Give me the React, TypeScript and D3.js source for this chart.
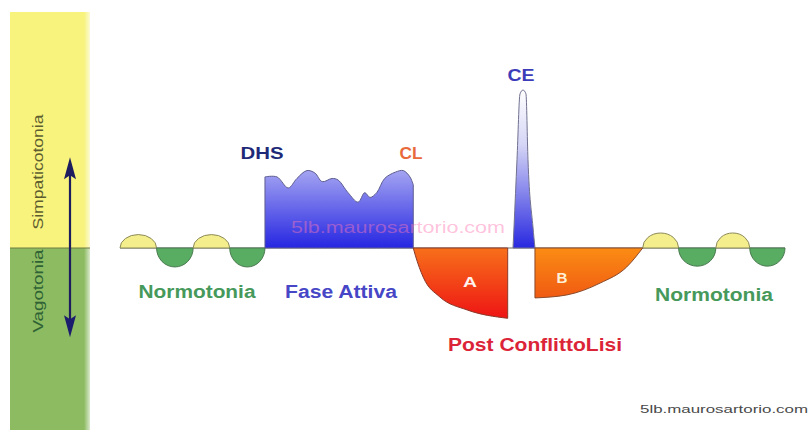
import React from "react";
import * as d3 from "d3";

const W = 812;
const H = 439;

// Time runs 0..100 (arbitrary units); tone level: 0 = normotonia baseline, CE peak = 10
const timeDomain = [0, 100];
const levelDomain = [0, 10];

// Normotonia oscillations: [start, end, amplitude]
const normoLeftStart = [0, 5.5, 11, 16.5];
const normoLeftEnd = [5.5, 11, 16.5, 21.8];
const normoLeftAmp = [0.85, -1.2, 0.85, -1.2];
const normoRightStart = [78.6, 84, 89.6, 94.7];
const normoRightEnd = [84, 89.6, 94.7, 100];
const normoRightAmp = [0.95, -1.15, 0.95, -1.15];

// Fase Attiva (DHS -> CL) sympathicotonic profile
const faseT = [21.8, 23.6, 25.3, 26.6, 28.1, 29.3, 30.4, 31.9, 32.8, 34.3, 35.8, 36.8, 37.6, 38.6, 39.8, 41.4, 42.6, 43.6, 44.1];
const faseV = [4.5, 4.5, 3.8, 4.4, 4.9, 4.75, 4.2, 4.4, 4.3, 3.5, 2.9, 3.5, 3.2, 3.5, 4.4, 4.8, 4.9, 4.5, 4.0];

// Post-conflict phase A
const aT = [44.1, 44.4, 45.6, 48.1, 52.2, 58.3];
const aV = [0, -0.45, -1.85, -3.1, -3.92, -4.45];

// Epileptoid crisis (CE)
const ceT = [59.1, 59.25, 59.7, 60.15, 60.6, 61.05, 61.35, 62.1, 62.4];
const ceV = [0, 1.33, 5.6, 9.75, 10, 9.75, 5.6, 1.33, 0];

// Post-conflict phase B
const bT = [62.4, 67.2, 72.2, 76.2, 78.6];
const bV = [-3.16, -2.97, -2.22, -1.2, 0];

const FONT = "'Liberation Sans', Arial, sans-serif";

export default function App() {
  const x = d3.scaleLinear().domain(timeDomain).range([120, 785]);
  const y = d3.scaleLinear().domain(levelDomain).range([248, 90]);
  const y0 = y(0);

  const area = (curve: any) =>
    d3
      .area<[number, number]>()
      .x((d) => x(d[0]))
      .y0(y0)
      .y1((d) => y(d[1]))
      .curve(curve);

  const zip = (a: number[], b: number[]) => a.map((v, i) => [v, b[i]] as [number, number]);

  const fasePath = area(d3.curveCatmullRom.alpha(0.5))(zip(faseT, faseV)) || "";
  const aPath = area(d3.curveMonotoneX)(zip(aT, aV)) || "";
  const cePath = area(d3.curveMonotoneX)(zip(ceT, ceV)) || "";
  const bPath = area(d3.curveMonotoneX)(zip(bT, bV)) || "";

  const lobes = (s: number[], e: number[], a: number[]) =>
    s.map((st, i) => {
      const x0 = x(st);
      const x1 = x(e[i]);
      const rx = (x1 - x0) / 2;
      const ry = Math.abs(y(a[i]) - y0);
      const sweep = a[i] > 0 ? 1 : 0;
      return {
        d: `M${x0},${y0} A${rx},${ry} 0 0 ${sweep} ${x1},${y0} Z`,
        up: a[i] > 0,
      };
    });
  const waves = [
    ...lobes(normoLeftStart, normoLeftEnd, normoLeftAmp),
    ...lobes(normoRightStart, normoRightEnd, normoRightAmp),
  ];

  const arrowTop = y(5.75);
  const arrowBot = y(-5.65);

  return (
    <svg
      width={W}
      height={H}
      style={{ position: "fixed", left: 0, top: 0, background: "#fff" }}
    >
      <defs>
        <linearGradient id="gBlue" x1="0" y1="0" x2="0" y2="1">
          <stop offset="0" stopColor="#a4a4f2" />
          <stop offset="1" stopColor="#2626e2" />
        </linearGradient>
        <linearGradient id="gCE" x1="0" y1="0" x2="0" y2="1">
          <stop offset="0" stopColor="#ffffff" />
          <stop offset="0.35" stopColor="#d4d4f6" />
          <stop offset="1" stopColor="#2828e0" />
        </linearGradient>
        <linearGradient id="gA" x1="0" y1="0" x2="0" y2="1">
          <stop offset="0" stopColor="#f7701a" />
          <stop offset="1" stopColor="#ee1414" />
        </linearGradient>
        <linearGradient id="gB" x1="0" y1="0" x2="0" y2="1">
          <stop offset="0" stopColor="#fb8c14" />
          <stop offset="1" stopColor="#f05a12" />
        </linearGradient>
        <linearGradient id="gBarEdge" x1="0" y1="0" x2="1" y2="0">
          <stop offset="0" stopColor="#fff" stopOpacity="0" />
          <stop offset="1" stopColor="#fff" stopOpacity="0.9" />
        </linearGradient>
      </defs>

      {/* left tone bar */}
      <rect x={10} y={12} width={80} height={y0 - 12} fill="#f7f37c" />
      <rect x={10} y={y0} width={80} height={430 - y0} fill="#8dbb62" />
      <rect x={84} y={12} width={8} height={418} fill="url(#gBarEdge)" />
      <line x1={10} x2={90} y1={y0} y2={y0} stroke="#6f7a45" strokeWidth={1} />
      <text
        transform={`translate(43,172) rotate(-90)`}
        textAnchor="middle"
        fontFamily={FONT}
        fontSize={15}
        fill="#5e5d30"
        textLength={115}
        lengthAdjust="spacingAndGlyphs"
      >
        Simpaticotonia
      </text>
      <text
        transform={`translate(43,291) rotate(-90)`}
        textAnchor="middle"
        fontFamily={FONT}
        fontSize={15}
        fill="#2f6234"
        textLength={83}
        lengthAdjust="spacingAndGlyphs"
      >
        Vagotonia
      </text>
      {/* double arrow */}
      <line x1={70} x2={70} y1={arrowTop + 12} y2={arrowBot - 12} stroke="#1c1c5e" strokeWidth={2.2} />
      <path d={`M70,${arrowTop} L64,${arrowTop + 22} L70,${arrowTop + 18} L76,${arrowTop + 22} Z`} fill="#1c1c5e" />
      <path d={`M70,${arrowBot} L64,${arrowBot - 22} L70,${arrowBot - 18} L76,${arrowBot - 22} Z`} fill="#1c1c6e" />

      {/* baseline */}
      <line x1={x(0)} x2={x(100)} y1={y0} y2={y0} stroke="#6a6a6a" strokeWidth={1} />

      {/* normotonia waves */}
      {waves.map((w, i) => (
        <path
          key={i}
          d={w.d}
          fill={w.up ? "#f4ef8c" : "#58ad62"}
          stroke={w.up ? "#8c8a5a" : "#4a7a50"}
          strokeWidth={1}
        />
      ))}

      {/* phases */}
      <path d={fasePath} fill="url(#gBlue)" stroke="#5c5c90" strokeWidth={1} />
      <path d={aPath} fill="url(#gA)" stroke="#8a3a2a" strokeWidth={1} />
      <path d={cePath} fill="url(#gCE)" stroke="#707090" strokeWidth={1} />
      <path d={bPath} fill="url(#gB)" stroke="#8a4a2a" strokeWidth={1} />

      {/* watermark */}
      <text
        x={398}
        y={233}
        textAnchor="middle"
        fontFamily={FONT}
        fontSize={16}
        fill="#ff78b4"
        fillOpacity={0.45}
        textLength={214}
        lengthAdjust="spacingAndGlyphs"
      >
        5lb.maurosartorio.com
      </text>

      {/* labels */}
      <g fontFamily={FONT} fontWeight="bold">
        <text x={262} y={159} textAnchor="middle" fontSize={16} fill="#1e2a78" textLength={43} lengthAdjust="spacingAndGlyphs">DHS</text>
        <text x={411} y={159} textAnchor="middle" fontSize={16} fill="#e86a3c" textLength={23} lengthAdjust="spacingAndGlyphs">CL</text>
        <text x={521} y={81} textAnchor="middle" fontSize={16} fill="#3c3cb8" textLength={27} lengthAdjust="spacingAndGlyphs">CE</text>
        <text x={470} y={287} textAnchor="middle" fontSize={15} fill="#fff4f0" textLength={14} lengthAdjust="spacingAndGlyphs">A</text>
        <text x={562} y={283} textAnchor="middle" fontSize={14} fill="#fff0d8" textLength={11} lengthAdjust="spacingAndGlyphs">B</text>
        <text x={197} y={298} textAnchor="middle" fontSize={18} fill="#46995a" textLength={117} lengthAdjust="spacingAndGlyphs">Normotonia</text>
        <text x={341} y={298} textAnchor="middle" fontSize={18} fill="#4646c6" textLength={112} lengthAdjust="spacingAndGlyphs">Fase Attiva</text>
        <text x={714} y={301} textAnchor="middle" fontSize={18} fill="#46995a" textLength={118} lengthAdjust="spacingAndGlyphs">Normotonia</text>
        <text x={535} y={351} textAnchor="middle" fontSize={18} fill="#dc2438" textLength={174} lengthAdjust="spacingAndGlyphs">Post ConflittoLisi</text>
      </g>

      <text
        x={808}
        y={413}
        textAnchor="end"
        fontFamily={FONT}
        fontSize={11}
        fill="#4a4a4a"
        textLength={168}
        lengthAdjust="spacingAndGlyphs"
      >
        5lb.maurosartorio.com
      </text>
    </svg>
  );
}
